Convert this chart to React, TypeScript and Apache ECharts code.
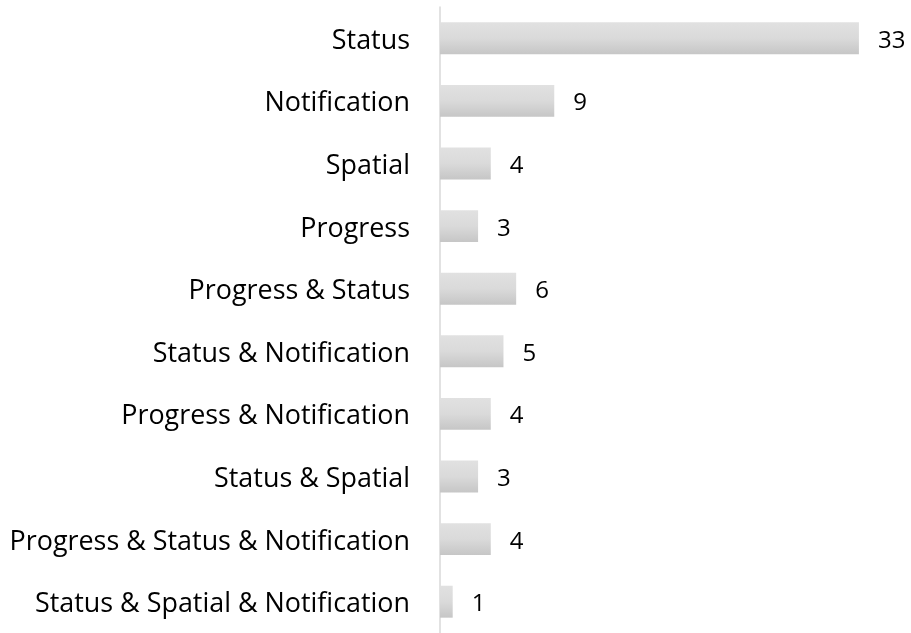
import React, { useEffect, useRef } from "react";
import * as echarts from "echarts";

const categories = [
  "Status",
  "Notification",
  "Spatial",
  "Progress",
  "Progress & Status",
  "Status & Notification",
  "Progress & Notification",
  "Status & Spatial",
  "Progress & Status & Notification",
  "Status & Spatial & Notification",
];
const counts = [33, 9, 4, 3, 6, 5, 4, 3, 4, 1];

export default function App() {
  const ref = useRef<HTMLDivElement>(null);
  useEffect(() => {
    if (!ref.current) return;
    const chart = echarts.init(ref.current, undefined, { renderer: "svg" });
    chart.setOption({
      animation: false,
      grid: { left: 440, top: 7, height: 630, right: 14 },
      xAxis: { type: "value", min: 0, max: 36, show: false },
      yAxis: {
        type: "category",
        data: categories,
        inverse: true,
        axisLine: { show: true, lineStyle: { color: "#d9d9d9", width: 1.5 } },
        axisTick: { show: false },
        axisLabel: {
          margin: 30,
          color: "#000",
          fontSize: 26.9,
          fontFamily: "Open Sans",
        },
      },
      series: [
        {
          type: "bar",
          data: counts,
          barWidth: "51%",
          itemStyle: {
            color: new echarts.graphic.LinearGradient(0, 0, 0, 1, [
              { offset: 0, color: "#e1e1e1" },
              { offset: 0.5, color: "#dadada" },
              { offset: 1, color: "#c6c6c6" },
            ]),
          },
          label: {
            show: true,
            position: "right",
            distance: 19,
            color: "#000",
            fontSize: 24,
            fontFamily: "Open Sans",
          },
        },
      ],
    });
    return () => chart.dispose();
  }, []);
  return (
    <div
      ref={ref}
      style={{ position: "fixed", left: 0, top: 0, width: 911, height: 633 }}
    />
  );
}
